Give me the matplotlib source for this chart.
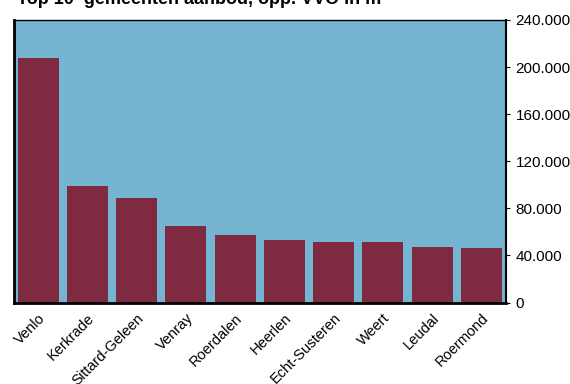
import matplotlib
matplotlib.use("Agg")
import matplotlib.pyplot as plt
from matplotlib.ticker import FuncFormatter

plt.rcParams["font.family"] = ["Liberation Sans", "DejaVu Sans"]

gemeenten = ["Venlo", "Kerkrade", "Sittard-Geleen", "Venray", "Roerdalen",
             "Heerlen", "Echt-Susteren", "Weert", "Leudal", "Roermond"]
vvo = [207700, 99000, 88800, 65000, 57300, 53100, 51400, 51400, 47200, 46300]
y_ticks = [0, 40000, 80000, 120000, 160000, 200000, 240000]

fig = plt.figure(figsize=(5.7, 3.84), dpi=100)
ax = fig.add_axes([0.0237, 0.2122, 0.8640, 0.7358])
ax.set_facecolor("#75B5D1")

x = range(len(gemeenten))
ax.bar(x, vvo, width=0.83, color="#7E2B42", zorder=2)
ax.set_xlim(-0.5, len(gemeenten) - 0.5)
ax.set_ylim(0, 240000)

ax.yaxis.tick_right()
ax.set_yticks(y_ticks)
ax.yaxis.set_major_formatter(FuncFormatter(lambda v, p: f"{int(v):,}".replace(",", ".")))
ax.tick_params(axis="y", length=3, width=0.8, labelsize=11, pad=4)
ax.set_xticks(list(x))
ax.set_xticklabels(gemeenten, rotation=45, ha="right", rotation_mode="anchor", fontsize=10.5)
ax.tick_params(axis="x", length=0, pad=6)

ax.spines["left"].set_linewidth(2)
ax.spines["bottom"].set_linewidth(2)
ax.spines["right"].set_linewidth(1.5)
ax.spines["top"].set_linewidth(1)

fig.text(0.03, 1 - 4 / 384, "Top 10  gemeenten aanbod, opp. VVO in m²",
         fontsize=13, fontweight="bold", va="baseline", ha="left")

fig.savefig("out.png", dpi=100)
